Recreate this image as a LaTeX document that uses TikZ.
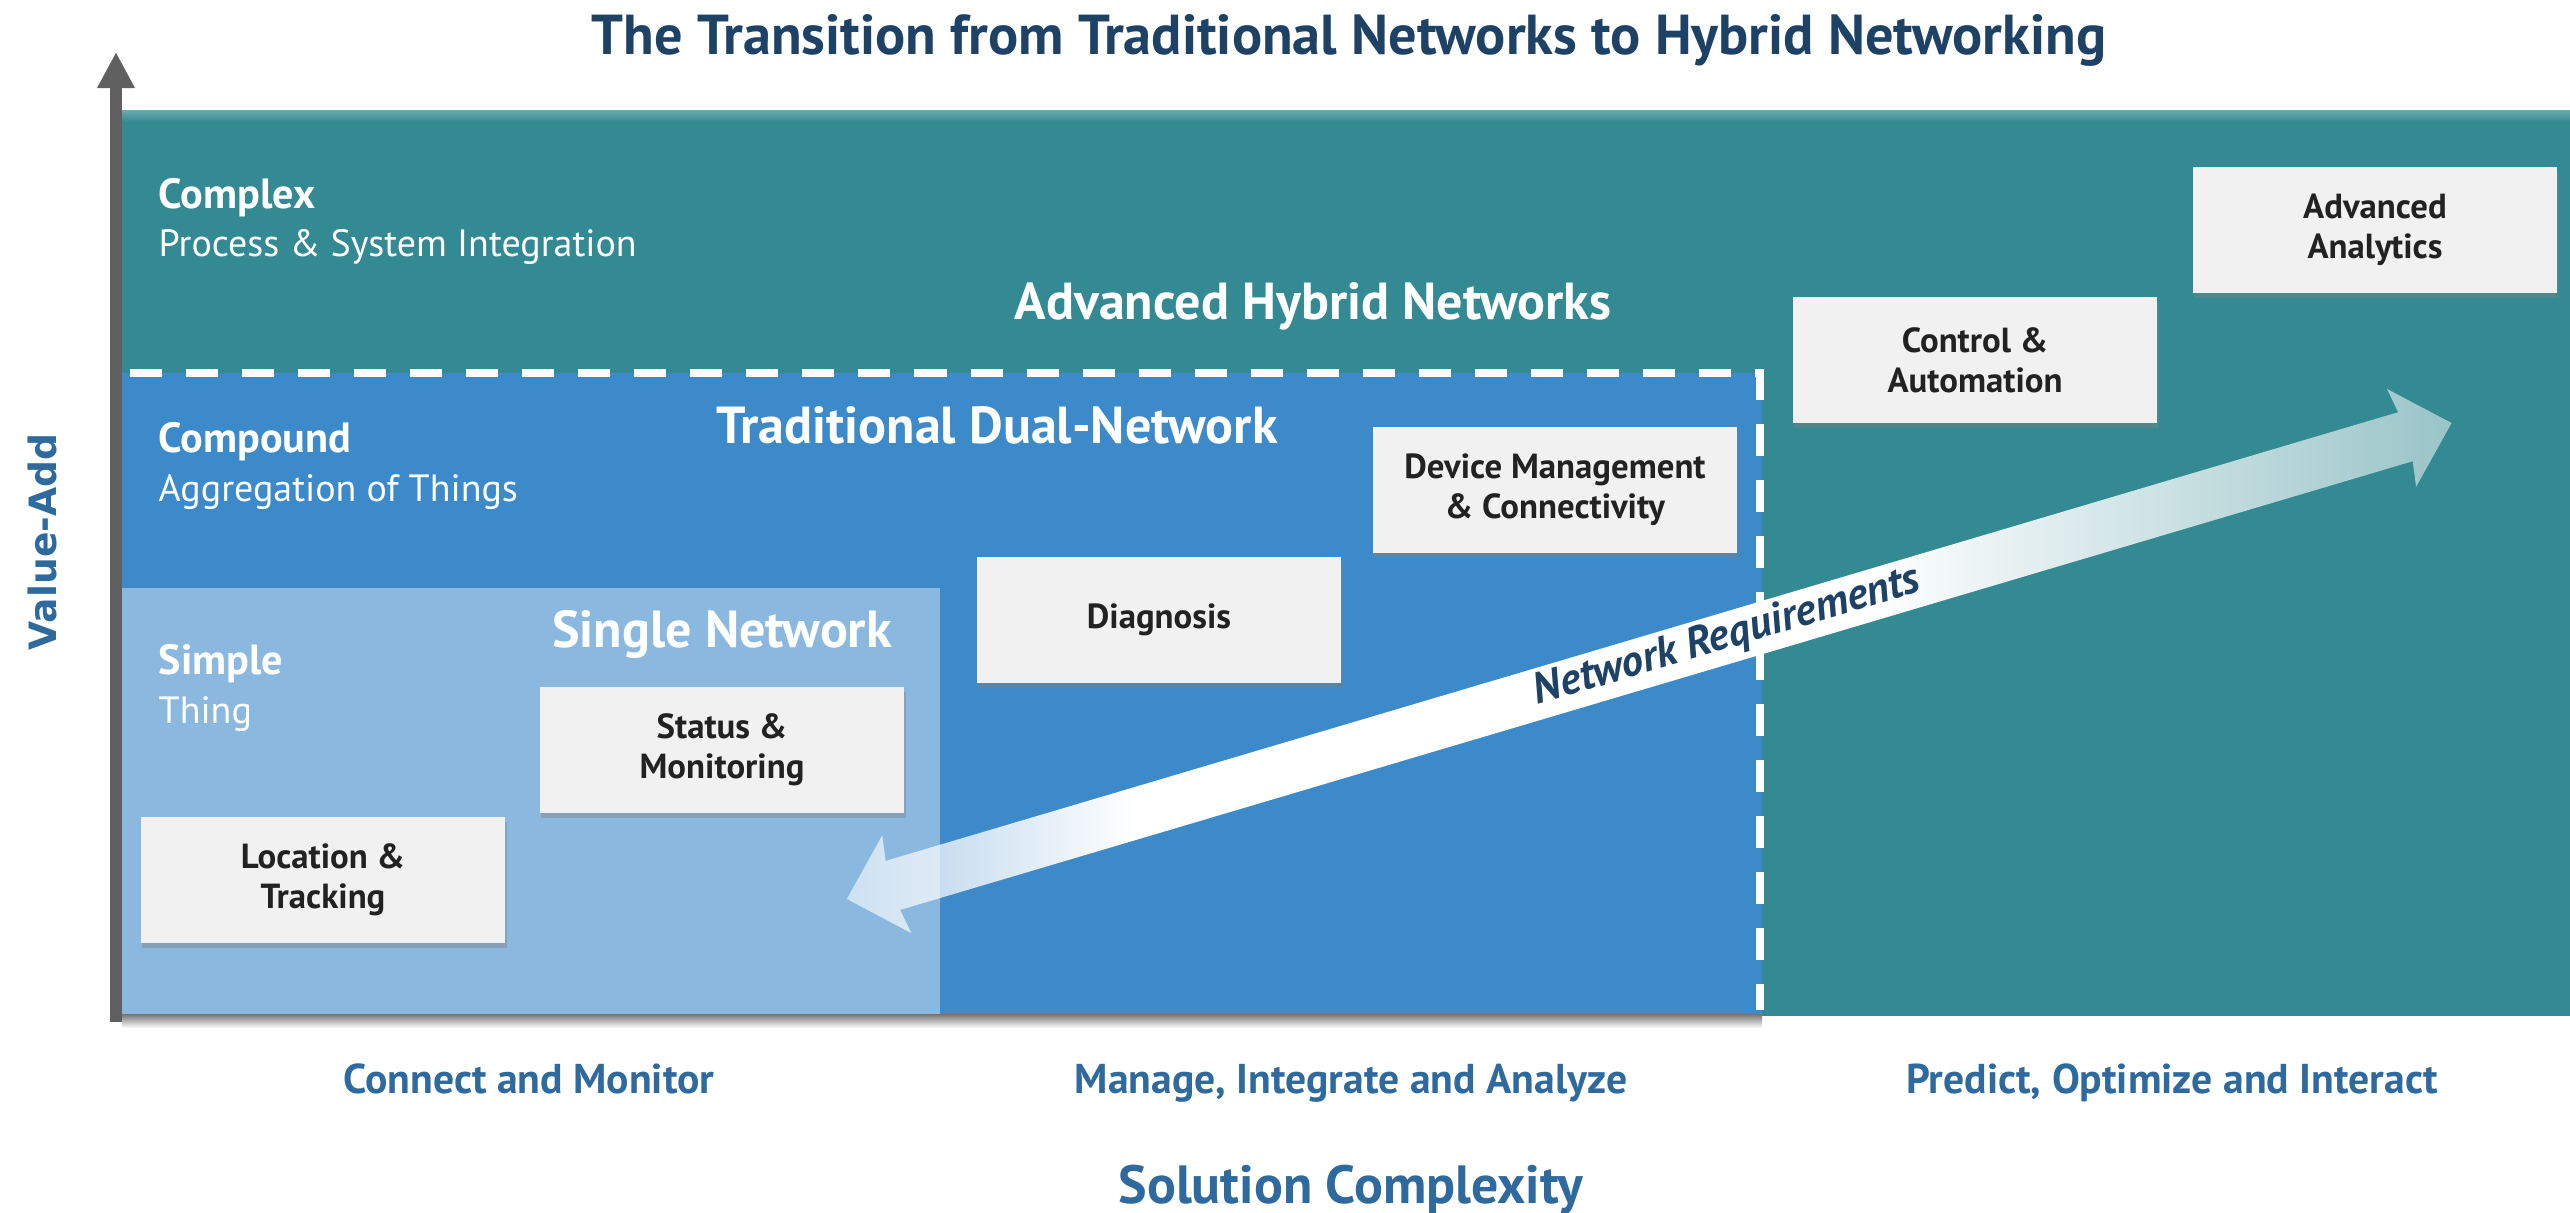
\documentclass[tikz,border=0pt]{standalone}
\usepackage{fontspec}
\setmainfont{PT Sans}
\newfontfamily\valuefont{DejaVu Sans}
\usetikzlibrary{arrows.meta}
\usetikzlibrary{shadows}
\usetikzlibrary{fadings}
\definecolor{titlenavy}{RGB}{30,66,102}
\definecolor{phaseblue}{RGB}{46,106,158}
\definecolor{hybridteal}{RGB}{51,138,146}
\definecolor{dualblue}{RGB}{60,138,201}
\definecolor{singleblue}{RGB}{138,184,223}
\definecolor{boxgray}{RGB}{241,241,241}
\definecolor{boxtext}{RGB}{34,34,34}
\definecolor{axisgray}{RGB}{96,96,96}
% the path is fitted to the middle 25bp..75bp of the fading
\pgfdeclarehorizontalshading{reqshade}{100bp}{color(0bp)=(pgftransparent!42);
  color(25bp)=(pgftransparent!42); color(34bp)=(pgftransparent!0);
  color(57bp)=(pgftransparent!0); color(75bp)=(pgftransparent!50);
  color(100bp)=(pgftransparent!50)}
\pgfdeclarefading{reqfade}{\pgfuseshading{reqshade}}
\tikzset{usecase/.style = {fill=boxgray, text=boxtext, align=center,
                           minimum width=3.64cm, minimum height=1.26cm, inner sep=0,
                           font=\bfseries\fontsize{9.9}{11.4}\selectfont,
                           drop shadow={opacity=0.4, shadow xshift=0.4pt, shadow yshift=-1.4pt}}}
\tikzset{tiername/.style = {text=white, anchor=base west, inner sep=0,
                            font=\bfseries\fontsize{12}{13}\selectfont}}
\tikzset{tiersub/.style = {text=white, anchor=base west, inner sep=0,
                           font=\fontsize{10.8}{13}\selectfont}}
\tikzset{netname/.style = {text=white, anchor=base, inner sep=0,
                           font=\bfseries\fontsize{14.8}{16}\selectfont}}
\tikzset{phase/.style = {text=phaseblue, anchor=base, inner sep=0,
                         font=\bfseries\fontsize{11.85}{13}\selectfont}}

\begin{document}
\begin{tikzpicture}[x=0.01cm, y=-0.01cm]
      \useasboundingbox (0, 0) rectangle (2570, 1213);

      % regions
      \fill [hybridteal] (122, 111) rectangle (2570, 1016);
      \shade [top color = hybridteal!75!white, bottom color = hybridteal] (122, 111) rectangle (2570, 122);
      \fill [dualblue] (122, 373) rectangle (1762, 1014);
      \fill [singleblue] (122, 588) rectangle (940, 1014);
      \shade [top color = black!55, bottom color = white] (122, 1014) rectangle (1762, 1028);
      \draw [white, line width = 0.08cm, dash pattern = on 0.32cm off 0.24cm]
      (130, 373) -- (1760, 373) -- (1760, 1010);

      % value axis
      \draw [axisgray, line width = 0.12cm, -{Triangle[length = 0.36cm, width = 0.35cm]}] (116, 1022) -- (116, 52);
      \node (valueadd) [rotate = 90, text = phaseblue, font = \valuefont\bfseries\fontsize{10.7}{13}\selectfont] at (42, 542) {Value-Add};

      \node (title) [anchor = base, text = titlenavy, font = \bfseries\fontsize{16}{18}\selectfont] at (1349, 55)
      {The Transition from Traditional Networks to Hybrid Networking};

      \node (complex) [tiername] at (158, 209) {Complex};
      \node (procint) [tiersub] at (158, 257) {Process \& System Integration};
      \node (compound) [tiername] at (158, 453) {Compound};
      \node (aggthings) [tiersub] at (158, 502) {Aggregation of Things};
      \node (simple) [tiername] at (158, 675) {Simple};
      \node (thing) [tiersub] at (158, 723) {Thing};

      \node (advhybrid) [netname] at (1313, 320) {Advanced Hybrid Networks};
      \node (tradual) [netname] at (997, 444) {Traditional Dual-Network};
      \node (singlenet) [netname] at (722, 647) {Single Network};

      \node (loctrack) [usecase] at (323, 880) {Location \&\\Tracking};
      \node (statmon) [usecase] at (722, 750) {Status \&\\Monitoring};
      \node (diagnosis) [usecase] at (1159, 620) {Diagnosis};
      \node (devmgmt) [usecase] at (1555, 490) {Device Management\\\& Connectivity};
      \node (ctrlauto) [usecase] at (1975, 360) {Control \&\\Automation};
      \node (advanalytics) [usecase] at (2375, 230) {Advanced\\Analytics};

      % network requirements arrow
      \coordinate (reqL) at (847, 899);
      \coordinate (reqR) at (2452, 423);
      \fill [white, path fading = reqfade] (reqL) -- (882.4, 835.3) -- (885.7, 860.9) -- (2398.5, 412.2)
      -- (2387.5, 389) -- (reqR) -- (2416.5, 486.8) -- (2413.1, 461.2) -- (900.3, 909.9) -- (911.4, 933.1) -- cycle;
      \node (netreq) [rotate = 16.5, text = titlenavy, font = \bfseries\itshape\fontsize{12.4}{14}\selectfont] at (1727, 637)
      {Network Requirements};

      \node (connmon) [phase] at (529, 1093) {Connect and Monitor};
      \node (mia) [phase] at (1351, 1093) {Manage, Integrate and Analyze};
      \node (poi) [phase] at (2172, 1093) {Predict, Optimize and Interact};
      \node (solcomp) [phase, font = \bfseries\fontsize{15.3}{16}\selectfont] at (1351, 1203) {Solution Complexity};
    \end{tikzpicture}
\end{document}
